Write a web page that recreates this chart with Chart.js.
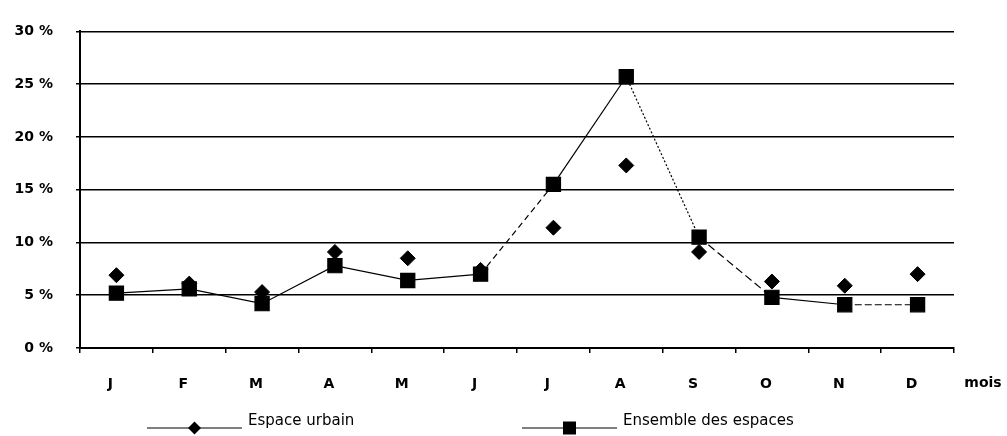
<!DOCTYPE html>
<html>
<head>
<meta charset="utf-8">
<script src="https://cdn.jsdelivr.net/npm/chart.js@4/dist/chart.umd.min.js"></script>
<style>
html,body{margin:0;padding:0;background:#fff;}
#wrap{width:1007px;height:436px;}
</style>
</head>
<body>
<div id="wrap"><canvas id="c" width="1007" height="436"></canvas></div>
<script>
const months = ['J','F','M','A','M','J','J','A','S','O','N','D'];
const espaceUrbain = [6.9, 6.1, 5.3, 9.1, 8.5, 7.4, 11.4, 17.3, 9.1, 6.3, 5.9, 7.0];
const ensembleEspaces = [5.2, 5.6, 4.2, 7.8, 6.4, 7.0, 15.5, 25.7, 10.5, 4.8, 4.1, 4.1];
const yTicks = [0, 5, 10, 15, 20, 25, 30];
const xUnit = 'mois';
const seriesNames = ['Espace urbain', 'Ensemble des espaces'];

const FONT = {family: '"DejaVu Sans", sans-serif', size: 14, weight: 'bold'};
const segDash = [[], [], [], [], [], [6,4], [], [2,2], [8,4], [], [7,3]];

const extras = {
  id: 'extras',
  afterDraw(chart) {
    const ctx = chart.ctx;
    const ca = chart.chartArea;
    ctx.save();
    ctx.fillStyle = '#000';
    ctx.strokeStyle = '#000';
    // axis unit
    ctx.font = 'bold 14px "DejaVu Sans", sans-serif';
    ctx.textAlign = 'center';
    ctx.textBaseline = 'middle';
    ctx.fillText(xUnit, ca.right + 29, 383);
    // legend
    const ly = 428;
    const items = [
      {x0: 147, x1: 242, style: 'diamond', label: seriesNames[0]},
      {x0: 522, x1: 617, style: 'square', label: seriesNames[1]}
    ];
    ctx.font = '15px "DejaVu Sans", sans-serif';
    ctx.textAlign = 'left';
    items.forEach(it => {
      ctx.lineWidth = 1.2;
      ctx.beginPath();
      ctx.moveTo(it.x0, ly);
      ctx.lineTo(it.x1, ly);
      ctx.stroke();
      const cx = (it.x0 + it.x1) / 2;
      ctx.beginPath();
      if (it.style === 'diamond') {
        ctx.moveTo(cx, ly - 6.5); ctx.lineTo(cx + 6.5, ly); ctx.lineTo(cx, ly + 6.5); ctx.lineTo(cx - 6.5, ly);
        ctx.closePath();
      } else {
        ctx.rect(cx - 6.5, ly - 6.5, 13, 13);
      }
      ctx.fill();
      ctx.fillText(it.label, it.x1 + 6, ly - 7);
    });
    ctx.restore();
  }
};

new Chart(document.getElementById('c'), {
  type: 'line',
  data: {
    labels: months,
    datasets: [
      {
        label: seriesNames[0],
        data: espaceUrbain,
        showLine: false,
        pointStyle: 'rectRot',
        pointRadius: 7.5,
        pointBackgroundColor: '#000',
        pointBorderColor: '#000',
        borderColor: '#000'
      },
      {
        label: seriesNames[1],
        data: ensembleEspaces,
        borderColor: '#000',
        borderWidth: 1.2,
        tension: 0,
        pointStyle: 'rect',
        pointRadius: 10,
        pointBackgroundColor: '#000',
        pointBorderColor: '#000',
        segment: {
          borderDash: c => segDash[c.p0DataIndex] || []
        }
      }
    ]
  },
  options: {
    responsive: false,
    animation: false,
    devicePixelRatio: 1,
    layout: {padding: {top: 22, right: 53, left: 0, bottom: 0}},
    plugins: {legend: {display: false}, tooltip: {enabled: false}},
    scales: {
      x: {
        type: 'category',
        offset: true,
        afterFit(s) { s.height = 88; },
        grid: {offset: true, drawOnChartArea: false, drawTicks: true, tickLength: 5, color: '#000', lineWidth: 1.5},
        border: {color: '#000', width: 2},
        ticks: {color: '#000', font: FONT, padding: 23, labelOffset: -6, maxRotation: 0, autoSkip: false}
      },
      y: {
        min: yTicks[0],
        max: yTicks[yTicks.length - 1],
        afterFit(s) { s.width = 80; },
        afterBuildTicks(s) { s.ticks = yTicks.map(v => ({value: v})); },
        grid: {color: '#000', lineWidth: 1.5, tickLength: 4, drawTicks: true},
        border: {color: '#000', width: 2},
        ticks: {color: '#000', font: FONT, padding: 23, callback: v => v + ' %'}
      }
    }
  },
  plugins: [extras]
});
</script>
</body>
</html>
